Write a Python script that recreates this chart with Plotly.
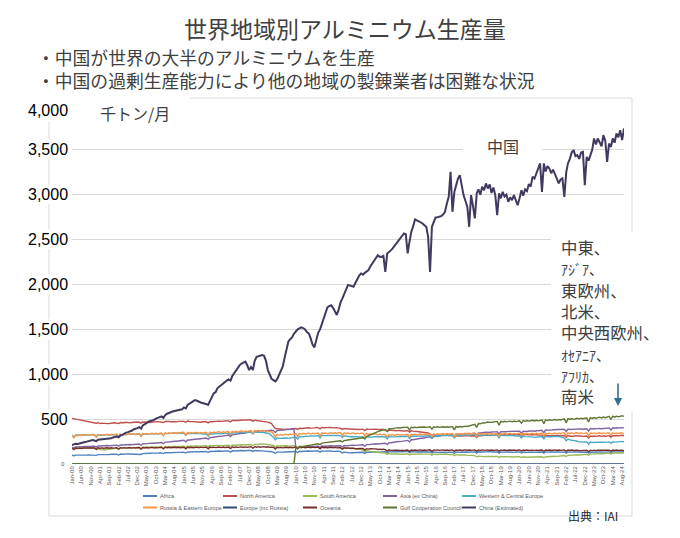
import pandas as pd
import plotly.graph_objects as go

# monthly aluminium production, thousand tonnes, Jan-2000 .. Sep-2024 (one row per year)
africa_rows = [
    [98, 92, 99, 98, 100, 99, 101, 102, 100, 102, 101, 103],
    [104, 96, 105, 104, 106, 105, 107, 108, 106, 108, 107, 109],
    [110, 100, 111, 109, 112, 110, 113, 112, 111, 113, 112, 114],
    [115, 106, 116, 115, 118, 117, 120, 121, 119, 122, 121, 123],
    [124, 116, 126, 125, 127, 126, 128, 129, 127, 130, 129, 131],
    [132, 122, 134, 133, 135, 134, 136, 137, 135, 138, 137, 139],
    [140, 128, 142, 140, 143, 141, 144, 145, 142, 145, 144, 146],
    [146, 133, 147, 145, 148, 146, 149, 150, 147, 150, 148, 151],
    [150, 140, 150, 147, 148, 145, 146, 144, 140, 141, 138, 136],
    [133, 120, 132, 130, 133, 132, 134, 136, 134, 137, 136, 139],
    [140, 128, 142, 140, 143, 141, 144, 145, 142, 145, 143, 146],
    [146, 133, 146, 143, 145, 142, 144, 145, 141, 143, 140, 142],
    [138, 124, 132, 128, 127, 124, 125, 126, 123, 126, 125, 128],
    [130, 118, 131, 129, 132, 130, 133, 134, 131, 134, 133, 135],
    [136, 123, 137, 135, 138, 136, 138, 139, 136, 139, 137, 140],
    [139, 126, 138, 135, 137, 134, 136, 137, 133, 136, 134, 136],
    [134, 124, 133, 130, 132, 129, 131, 132, 128, 131, 129, 131],
    [132, 119, 133, 130, 133, 131, 133, 134, 131, 134, 132, 135],
    [135, 122, 136, 133, 136, 133, 135, 136, 132, 135, 133, 136],
    [135, 122, 135, 132, 134, 131, 133, 134, 130, 133, 131, 134],
    [134, 124, 134, 130, 132, 129, 131, 132, 129, 132, 130, 133],
    [134, 121, 135, 132, 135, 132, 134, 135, 131, 134, 132, 135],
    [135, 122, 135, 132, 134, 131, 133, 134, 130, 133, 131, 134],
    [134, 121, 134, 131, 134, 131, 133, 134, 131, 134, 132, 135],
    [135, 125, 136, 133, 136, 133, 135, 136, 133],
]
north_america_rows = [
    [509, 505, 500, 498, 495, 490, 488, 485, 480, 478, 475, 471],
    [465, 455, 460, 450, 455, 452, 455, 450, 452, 455, 458, 460],
    [455, 450, 462, 458, 460, 465, 460, 458, 462, 466, 463, 468],
    [465, 455, 468, 465, 470, 466, 462, 468, 465, 470, 472, 468],
    [470, 462, 475, 470, 473, 470, 468, 472, 470, 475, 473, 478],
    [475, 465, 478, 474, 476, 472, 470, 468, 462, 466, 470, 472],
    [470, 458, 472, 470, 474, 472, 476, 478, 475, 480, 478, 482],
    [480, 470, 484, 482, 486, 484, 488, 490, 486, 490, 488, 492],
    [490, 478, 488, 486, 482, 480, 476, 474, 470, 466, 460, 450],
    [420, 395, 392, 388, 390, 386, 384, 388, 385, 390, 392, 395],
    [395, 385, 398, 396, 400, 398, 402, 404, 400, 405, 402, 406],
    [405, 392, 408, 404, 406, 402, 405, 408, 402, 406, 404, 400],
    [398, 385, 396, 392, 390, 388, 386, 390, 385, 388, 384, 386],
    [388, 372, 390, 386, 388, 384, 386, 388, 384, 386, 382, 384],
    [380, 365, 378, 374, 376, 372, 370, 374, 370, 372, 368, 370],
    [372, 355, 370, 366, 368, 362, 360, 358, 350, 352, 348, 345],
    [335, 318, 330, 325, 322, 320, 322, 324, 320, 322, 318, 320],
    [320, 298, 318, 312, 316, 312, 314, 316, 312, 314, 312, 316],
    [315, 295, 318, 314, 318, 316, 320, 322, 318, 324, 322, 326],
    [328, 305, 330, 325, 330, 326, 328, 330, 325, 330, 326, 330],
    [330, 310, 332, 325, 330, 326, 328, 330, 325, 328, 322, 326],
    [322, 300, 322, 316, 320, 316, 318, 320, 314, 318, 314, 318],
    [318, 295, 316, 310, 314, 310, 312, 314, 308, 312, 308, 312],
    [312, 290, 312, 306, 312, 308, 312, 314, 308, 314, 310, 316],
    [316, 298, 318, 312, 318, 314, 318, 320, 314],
]
south_america_rows = [
    [180, 165, 182, 178, 181, 178, 180, 181, 177, 180, 178, 181],
    [178, 160, 170, 160, 158, 155, 158, 160, 162, 168, 172, 176],
    [178, 162, 180, 177, 180, 178, 181, 182, 179, 182, 181, 184],
    [186, 170, 188, 186, 189, 187, 190, 191, 188, 191, 190, 192],
    [192, 176, 194, 191, 194, 192, 195, 196, 193, 196, 195, 197],
    [198, 182, 200, 197, 200, 198, 201, 202, 199, 202, 201, 203],
    [204, 188, 206, 203, 206, 204, 207, 208, 205, 208, 207, 209],
    [210, 193, 212, 209, 212, 210, 213, 214, 211, 214, 213, 215],
    [218, 204, 221, 218, 222, 220, 223, 224, 221, 222, 218, 214],
    [206, 186, 204, 200, 202, 199, 201, 203, 199, 203, 201, 204],
    [198, 180, 197, 193, 195, 192, 194, 195, 191, 194, 192, 194],
    [190, 172, 189, 185, 187, 184, 186, 187, 183, 186, 184, 186],
    [182, 166, 180, 175, 176, 172, 173, 172, 167, 168, 164, 163],
    [155, 138, 150, 142, 140, 135, 134, 133, 128, 130, 127, 128],
    [123, 106, 118, 112, 113, 110, 111, 112, 108, 111, 109, 111],
    [112, 100, 112, 109, 112, 110, 112, 113, 110, 112, 110, 112],
    [110, 98, 110, 106, 109, 106, 108, 109, 105, 108, 106, 108],
    [106, 93, 104, 100, 102, 98, 100, 101, 96, 98, 95, 96],
    [92, 80, 88, 84, 85, 82, 83, 84, 80, 83, 81, 83],
    [84, 74, 84, 80, 82, 79, 81, 82, 78, 81, 79, 81],
    [82, 72, 80, 76, 77, 74, 75, 76, 73, 76, 75, 78],
    [80, 70, 82, 80, 83, 82, 85, 87, 85, 89, 88, 92],
    [94, 84, 97, 96, 99, 98, 101, 103, 101, 104, 103, 106],
    [108, 97, 111, 110, 113, 112, 115, 117, 114, 118, 117, 120],
    [121, 111, 123, 121, 124, 122, 125, 126, 123],
]
asia_ex_china_rows = [
    [188, 178, 190, 189, 192, 191, 194, 195, 193, 196, 195, 198],
    [199, 188, 201, 200, 203, 202, 205, 206, 204, 207, 206, 209],
    [210, 198, 212, 211, 214, 213, 216, 217, 215, 218, 217, 220],
    [222, 209, 225, 224, 228, 227, 231, 233, 231, 235, 234, 238],
    [240, 226, 244, 244, 248, 248, 252, 254, 253, 257, 257, 261],
    [264, 248, 268, 268, 272, 272, 276, 279, 278, 282, 283, 287],
    [290, 274, 295, 296, 301, 301, 306, 309, 308, 313, 314, 318],
    [322, 305, 328, 329, 334, 335, 340, 343, 343, 348, 349, 354],
    [358, 342, 363, 363, 367, 366, 370, 372, 370, 374, 373, 376],
    [372, 352, 372, 372, 376, 376, 380, 383, 382, 386, 387, 392],
    [190, 174, 192, 190, 193, 192, 195, 196, 194, 197, 196, 199],
    [199, 183, 200, 198, 201, 199, 202, 203, 200, 203, 202, 204],
    [204, 190, 206, 204, 207, 206, 209, 210, 208, 211, 210, 213],
    [214, 198, 217, 216, 220, 219, 223, 225, 223, 227, 226, 230],
    [232, 216, 237, 237, 242, 242, 247, 250, 249, 254, 255, 260],
    [263, 247, 270, 271, 277, 278, 284, 287, 287, 293, 294, 299],
    [302, 287, 307, 307, 312, 312, 317, 319, 318, 322, 322, 326],
    [328, 309, 331, 329, 334, 332, 336, 338, 335, 339, 338, 342],
    [344, 322, 347, 345, 350, 348, 353, 355, 351, 356, 354, 358],
    [359, 335, 360, 357, 362, 359, 363, 364, 360, 364, 362, 366],
    [366, 345, 366, 362, 366, 363, 367, 369, 365, 370, 368, 373],
    [375, 350, 378, 375, 380, 377, 382, 384, 380, 385, 383, 387],
    [388, 362, 389, 385, 389, 385, 389, 390, 386, 390, 388, 392],
    [393, 367, 394, 390, 395, 391, 396, 397, 393, 398, 396, 400],
    [401, 380, 403, 399, 404, 400, 405, 406, 402],
]
west_central_europe_rows = [
    [322, 300, 324, 320, 324, 321, 325, 326, 322, 326, 324, 328],
    [326, 302, 326, 322, 325, 321, 324, 325, 321, 325, 323, 326],
    [327, 304, 328, 325, 329, 326, 330, 331, 327, 331, 329, 332],
    [333, 309, 334, 331, 335, 332, 336, 337, 333, 337, 335, 338],
    [340, 318, 342, 338, 342, 339, 343, 344, 340, 344, 342, 345],
    [344, 318, 343, 338, 341, 337, 340, 340, 335, 338, 335, 338],
    [336, 311, 337, 334, 338, 335, 339, 340, 336, 341, 339, 343],
    [345, 320, 348, 345, 350, 347, 352, 353, 349, 354, 352, 356],
    [357, 335, 358, 354, 357, 352, 354, 352, 345, 343, 332, 318],
    [298, 270, 292, 286, 288, 284, 287, 289, 286, 291, 291, 296],
    [300, 276, 304, 302, 307, 305, 309, 311, 308, 312, 311, 315],
    [318, 292, 320, 316, 320, 316, 319, 320, 315, 318, 315, 317],
    [316, 294, 314, 308, 310, 304, 306, 305, 299, 302, 299, 302],
    [304, 278, 304, 300, 304, 300, 304, 305, 301, 305, 303, 306],
    [306, 280, 306, 302, 306, 302, 305, 306, 302, 306, 304, 307],
    [310, 284, 311, 307, 312, 308, 312, 313, 309, 313, 311, 315],
    [315, 293, 316, 312, 316, 312, 316, 317, 313, 317, 315, 318],
    [320, 292, 322, 318, 323, 319, 323, 324, 320, 324, 322, 326],
    [326, 297, 326, 321, 325, 320, 324, 324, 319, 323, 320, 323],
    [322, 293, 321, 316, 319, 314, 317, 317, 312, 315, 312, 315],
    [314, 290, 312, 305, 306, 300, 302, 302, 297, 301, 299, 303],
    [306, 280, 308, 304, 308, 304, 307, 308, 303, 306, 302, 298],
    [288, 258, 278, 268, 266, 258, 257, 254, 246, 246, 242, 243],
    [245, 222, 244, 240, 243, 239, 242, 243, 239, 243, 241, 244],
    [246, 230, 248, 244, 248, 245, 249, 250, 247],
]
russia_east_europe_rows = [
    [318, 292, 320, 314, 322, 316, 324, 325, 318, 326, 320, 328],
    [327, 298, 328, 320, 328, 322, 330, 331, 323, 331, 325, 333],
    [333, 302, 334, 325, 334, 327, 336, 337, 329, 337, 331, 339],
    [339, 308, 340, 331, 340, 333, 342, 343, 335, 343, 337, 345],
    [346, 317, 348, 339, 348, 341, 350, 351, 343, 351, 345, 353],
    [352, 320, 352, 343, 351, 343, 352, 352, 343, 351, 344, 351],
    [354, 322, 356, 347, 356, 348, 358, 359, 350, 359, 352, 361],
    [362, 330, 364, 355, 364, 356, 366, 367, 358, 367, 360, 369],
    [372, 342, 374, 365, 374, 366, 375, 375, 364, 370, 358, 360],
    [338, 302, 330, 320, 328, 320, 330, 332, 324, 334, 328, 337],
    [340, 308, 342, 333, 342, 334, 343, 344, 335, 344, 337, 345],
    [346, 313, 347, 337, 346, 338, 347, 348, 339, 348, 341, 349],
    [348, 318, 347, 337, 345, 336, 344, 345, 335, 344, 336, 344],
    [343, 309, 341, 330, 337, 328, 335, 335, 325, 333, 325, 332],
    [330, 298, 330, 320, 328, 320, 328, 329, 320, 329, 322, 330],
    [331, 300, 332, 323, 332, 324, 333, 334, 325, 334, 327, 335],
    [335, 307, 337, 328, 337, 329, 338, 339, 330, 339, 332, 340],
    [340, 307, 341, 331, 340, 332, 341, 342, 332, 341, 334, 342],
    [341, 308, 341, 331, 340, 331, 340, 341, 331, 340, 332, 340],
    [340, 308, 341, 331, 341, 332, 341, 342, 332, 341, 334, 342],
    [342, 319, 343, 333, 342, 333, 342, 343, 333, 342, 335, 343],
    [344, 311, 345, 335, 345, 336, 345, 346, 336, 346, 338, 347],
    [347, 314, 347, 337, 347, 338, 347, 348, 338, 347, 339, 347],
    [347, 314, 347, 337, 346, 337, 346, 347, 337, 346, 339, 347],
    [346, 322, 347, 337, 346, 337, 346, 347, 338],
]
europe_inc_russia_rows = [
    [0, 0, 0, 0, 0, 0, 0, 0, 0, 0, 0, 0],
    [0, 0, 0, 0, 0, 0, 0, 0, 0, 0, 0, 0],
    [0, 0, 0, 0, 0, 0, 0, 0, 0, 0, 0, 0],
    [0, 0, 0, 0, 0, 0, 0, 0, 0, 0, 0, 0],
    [0, 0, 0, 0, 0, 0, 0, 0, 0, 0, 0, 0],
    [0, 0, 0, 0, 0, 0, 0, 0, 0, 0, 0, 0],
    [0, 0, 0, 0, 0, 0, 0, 0, 0, 0, 0, 0],
    [0, 0, 0, 0, 0, 0, 0, 0, 0, 0, 0, 0],
    [0, 0, 0, 0, 0, 0, 0, 0, 0, 0, 0, 0],
    [0, 0, 0, 0, 0, 0, 0, 0, 0, 0, 0, 0],
    [0, 0, 0, 0, 0, 0, 0, 0, 0, 0, 0, 0],
    [0, 0, 0, 0, 0, 0, 0, 0, 0, 0, 0, 0],
    [0, 0, 0, 0, 0, 0, 0, 0, 0, 0, 0, 0],
    [0, 0, 0, 0, 0, 0, 0, 0, 0, 0, 0, 0],
    [0, 0, 0, 0, 0, 0, 0, 0, 0, 0, 0, 0],
    [0, 0, 0, 0, 0, 0, 0, 0, 0, 0, 0, 0],
    [0, 0, 0, 0, 0, 0, 0, 0, 0, 0, 0, 0],
    [0, 0, 0, 0, 0, 0, 0, 0, 0, 0, 0, 0],
    [0, 0, 0, 0, 0, 0, 0, 0, 0, 0, 0, 0],
    [0, 0, 0, 0, 0, 0, 0, 0, 0, 0, 0, 0],
    [0, 0, 0, 0, 0, 0, 0, 0, 0, 0, 0, 0],
    [0, 0, 0, 0, 0, 0, 0, 0, 0, 0, 0, 0],
    [0, 0, 0, 0, 0, 0, 0, 0, 0, 0, 0, 0],
    [0, 0, 0, 0, 0, 0, 0, 0, 0, 0, 0, 0],
    [0, 0, 0, 0, 0, 0, 0, 0, 0],
]
oceania_rows = [
    [176, 160, 177, 172, 177, 173, 178, 178, 173, 178, 174, 179],
    [179, 163, 180, 175, 180, 176, 181, 181, 176, 181, 177, 182],
    [182, 165, 182, 177, 182, 177, 182, 183, 177, 182, 178, 183],
    [184, 166, 184, 179, 184, 179, 184, 185, 179, 184, 180, 185],
    [186, 168, 186, 181, 186, 181, 186, 187, 181, 186, 182, 187],
    [187, 169, 187, 182, 187, 182, 188, 188, 182, 188, 183, 188],
    [188, 170, 188, 183, 188, 183, 189, 189, 183, 189, 184, 189],
    [190, 171, 190, 184, 190, 185, 191, 191, 185, 191, 186, 192],
    [193, 176, 193, 187, 193, 187, 193, 193, 187, 192, 186, 191],
    [188, 168, 186, 180, 185, 180, 186, 187, 181, 187, 182, 188],
    [188, 170, 188, 182, 188, 182, 188, 188, 182, 188, 183, 188],
    [188, 170, 188, 182, 187, 181, 186, 186, 180, 185, 180, 184],
    [182, 166, 182, 176, 180, 175, 178, 176, 170, 173, 169, 172],
    [172, 155, 171, 166, 170, 165, 168, 168, 162, 166, 161, 165],
    [160, 144, 158, 152, 155, 150, 154, 154, 149, 153, 149, 154],
    [156, 141, 156, 151, 156, 151, 156, 157, 151, 156, 152, 157],
    [158, 142, 157, 152, 157, 152, 157, 157, 151, 156, 151, 156],
    [157, 141, 156, 151, 156, 151, 156, 157, 151, 156, 152, 157],
    [157, 141, 157, 152, 157, 152, 157, 157, 151, 156, 152, 157],
    [157, 141, 157, 152, 156, 151, 156, 156, 150, 155, 150, 155],
    [156, 145, 156, 150, 155, 150, 155, 155, 149, 154, 150, 155],
    [156, 140, 156, 151, 156, 151, 156, 157, 151, 156, 152, 157],
    [157, 141, 156, 151, 155, 150, 154, 154, 148, 152, 148, 152],
    [153, 138, 154, 149, 154, 149, 154, 155, 149, 154, 150, 155],
    [155, 143, 156, 150, 155, 150, 155, 155, 149],
]
gcc_rows = [
    [0, 0, 0, 0, 0, 0, 0, 0, 0, 0, 0, 0],
    [0, 0, 0, 0, 0, 0, 0, 0, 0, 0, 0, 0],
    [0, 0, 0, 0, 0, 0, 0, 0, 0, 0, 0, 0],
    [0, 0, 0, 0, 0, 0, 0, 0, 0, 0, 0, 0],
    [0, 0, 0, 0, 0, 0, 0, 0, 0, 0, 0, 0],
    [0, 0, 0, 0, 0, 0, 0, 0, 0, 0, 0, 0],
    [0, 0, 0, 0, 0, 0, 0, 0, 0, 0, 0, 0],
    [0, 0, 0, 0, 0, 0, 0, 0, 0, 0, 0, 0],
    [0, 0, 0, 0, 0, 0, 0, 0, 0, 0, 0, 0],
    [0, 0, 0, 0, 0, 0, 0, 0, 0, 0, 0, 0],
    [178, 175, 188, 192, 198, 200, 205, 208, 210, 215, 218, 222],
    [225, 215, 232, 235, 238, 240, 244, 246, 247, 250, 252, 256],
    [258, 245, 262, 264, 267, 268, 272, 274, 275, 280, 283, 288],
    [292, 285, 305, 315, 325, 335, 345, 352, 360, 368, 375, 379],
    [385, 362, 392, 392, 398, 396, 402, 404, 400, 406, 404, 408],
    [409, 378, 410, 404, 410, 405, 410, 412, 406, 412, 408, 413],
    [414, 388, 414, 408, 414, 408, 414, 415, 409, 415, 410, 416],
    [417, 380, 418, 410, 418, 412, 420, 422, 418, 425, 428, 436],
    [442, 408, 450, 448, 458, 456, 464, 468, 464, 470, 468, 472],
    [474, 432, 476, 468, 476, 470, 477, 478, 470, 478, 472, 480],
    [482, 455, 484, 476, 484, 478, 486, 487, 479, 487, 481, 489],
    [490, 448, 492, 484, 493, 486, 494, 495, 487, 496, 490, 498],
    [502, 458, 505, 496, 506, 498, 508, 510, 501, 510, 504, 513],
    [515, 468, 517, 508, 518, 510, 520, 522, 513, 523, 516, 526],
    [530, 498, 532, 522, 533, 525, 535, 538, 530],
]
china_rows = [
    [212, 218, 225, 222, 230, 236, 240, 244, 248, 252, 258, 267],
    [262, 255, 270, 272, 278, 282, 280, 286, 290, 288, 296, 300],
    [305, 298, 318, 325, 341, 350, 355, 362, 370, 385, 397, 400],
    [410, 395, 430, 440, 455, 471, 478, 480, 492, 505, 515, 527],
    [530, 512, 545, 560, 570, 582, 585, 590, 595, 600, 605, 609],
    [630, 620, 657, 670, 690, 700, 712, 705, 690, 685, 680, 672],
    [668, 660, 700, 740, 787, 800, 843, 860, 880, 900, 915, 930],
    [943, 930, 980, 1010, 1050, 1080, 1102, 1120, 1135, 1140, 1100, 1047],
    [1080, 1047, 1150, 1195, 1200, 1210, 1214, 1205, 1150, 1047, 990, 950],
    [935, 920, 943, 990, 1040, 1084, 1180, 1280, 1362, 1390, 1411, 1450],
    [1480, 1500, 1510, 1522, 1515, 1500, 1470, 1455, 1400, 1330, 1300, 1380],
    [1462, 1500, 1560, 1604, 1680, 1745, 1760, 1770, 1740, 1700, 1660, 1720],
    [1800, 1845, 1900, 1950, 1993, 1990, 1985, 1975, 2020, 2070, 2100, 2123],
    [2110, 2130, 2141, 2160, 2200, 2235, 2260, 2290, 2327, 2310, 2308, 2320],
    [2141, 2346, 2360, 2380, 2402, 2430, 2460, 2494, 2520, 2545, 2569, 2560],
    [2346, 2480, 2587, 2650, 2725, 2715, 2705, 2698, 2680, 2660, 2643, 2531],
    [2141, 2643, 2700, 2747, 2750, 2755, 2762, 2780, 2810, 2900, 2977, 3255],
    [2810, 3032, 3120, 3180, 3218, 3090, 2996, 2930, 2866, 2643, 2996, 2880],
    [2736, 3015, 3060, 3000, 3090, 3050, 3126, 3070, 3115, 3020, 3080, 2996],
    [2773, 3015, 2960, 3032, 2980, 3000, 2921, 2970, 2940, 2996, 2930, 2884],
    [2960, 3051, 2990, 3060, 3040, 3120, 3090, 3200, 3180, 3237, 3280, 3349],
    [3032, 3349, 3260, 3320, 3293, 3240, 3280, 3237, 3180, 3126, 3170, 3182],
    [2977, 3250, 3349, 3400, 3470, 3497, 3430, 3441, 3400, 3470, 3478, 3107],
    [3422, 3380, 3441, 3500, 3627, 3560, 3627, 3589, 3540, 3664, 3600, 3366],
    [3571, 3533, 3627, 3580, 3683, 3640, 3719, 3608, 3740],
]

series_names = ["Africa", "North America", "South America", "Asia (ex China)",
                "Western & Central Europe", "Russia & Eastern Europe", "Europe (inc Russia)",
                "Oceania", "Gulf Cooperation Council", "China (Estimated)"]
series_colors = ["#4F81BD", "#C0504D", "#9BBB59", "#8064A2", "#4BACC6",
                 "#F79646", "#2C4D75", "#772C2A", "#5F7530", "#43385E"]
series_rows = [africa_rows, north_america_rows, south_america_rows, asia_ex_china_rows,
               west_central_europe_rows, russia_east_europe_rows, europe_inc_russia_rows,
               oceania_rows, gcc_rows, china_rows]

y_label_values = [500, 1000, 1500, 2000, 2500, 3000, 3500, 4000]
bullet_lines = ["・中国が世界の大半のアルミニウムを生産",
                "・中国の過剰生産能力により他の地域の製錬業者は困難な状況"]
# (text, half-width kana line)
region_notes = [("中東、", False), ("ｱｼﾞｱ、", True), ("東欧州、", False), ("北米、", False),
                ("中央西欧州、", False), ("ｵｾｱﾆｱ、", True), ("ｱﾌﾘｶ、", True), ("南米", False)]


def flat(rows):
    return [v for row in rows for v in row]


series_values = [flat(r) for r in series_rows]
months = pd.date_range("2000-01-01", periods=len(series_values[-1]), freq="MS")
tick_months = months[::5]
tick_labels = [d.strftime("%b-%y") for d in tick_months]

# the page body adds an 8px margin, so the figure is drawn 8px in from the window corner
PAGE = 8
W, H = 680 - 2 * PAGE, 538 - 2 * PAGE
# plot area in window pixels
L, R, T, B = 72, 624, 105, 464


def px(x):
    return (x - L) / (R - L)


def py(y):
    return (B - y) / (B - T)


JP = "Noto Sans CJK JP"
SANS = "Liberation Sans"

fig = go.Figure()
for name, color, vals in zip(series_names, series_colors, series_values):
    fig.add_trace(go.Scatter(x=months[:len(vals)], y=vals, mode="lines", name=name,
                             line=dict(color=color, width=2.0 if name.startswith("China") else 1.4),
                             showlegend=False, hoverinfo="skip"))

shapes = [
    # outer chart border
    dict(type="rect", xref="paper", yref="paper", x0=px(49), x1=px(632), y0=py(516), y1=py(98),
         line=dict(color="#D9D9D9", width=1), layer="below"),
    # white text boxes lying on top of the chart
    dict(type="rect", xref="paper", yref="paper", x0=px(40), x1=px(190), y0=py(122), y1=py(94),
         fillcolor="white", line=dict(width=0), layer="above"),
    dict(type="rect", xref="paper", yref="paper", x0=px(463), x1=px(542), y0=py(160), y1=py(136),
         fillcolor="white", line=dict(width=0), layer="above"),
    dict(type="rect", xref="paper", yref="paper", x0=px(551), x1=px(645), y0=py(412), y1=py(232),
         fillcolor="white", line=dict(width=0), layer="above"),
]

notes_text = "<br>".join(f'<span style="font-size:14px">{t}</span>' if kana else t
                         for t, kana in region_notes)

annotations = [
    dict(text="世界地域別アルミニウム生産量", x=px(345), y=py(28), font=dict(family=JP, size=23, color="#404040")),
    dict(text="<br>".join(bullet_lines), x=px(35), y=py(68), xanchor="left", align="left",
         font=dict(family=JP, size=17.8, color="#404040")),
    dict(text="千トン/月", x=px(98), y=py(113), xanchor="left", font=dict(family=JP, size=16, color="#404040")),
    dict(text="中国", x=px(503), y=py(146), font=dict(family=JP, size=16, color="#404040")),
    dict(text=notes_text, x=px(559), y=py(321), xanchor="left", align="left",
         font=dict(family=JP, size=16.4, color="#404040")),
    dict(text="出典：IAI", x=px(566), y=py(515), xanchor="left", font=dict(family=JP, size=12, color="#262626")),
    dict(text="0", x=px(63), y=0, yref="y", font=dict(family=SANS, size=6, color="#595959")),
    dict(text="", x=px(618), y=py(406), showarrow=True, ax=0, ay=-24, arrowhead=2, arrowsize=1,
         arrowwidth=1.6, arrowcolor="#2E6E8E"),
]
for v in y_label_values:
    annotations.append(dict(text=f"{v:,}", x=px(70), xanchor="right", y=v, yref="y",
                            yshift=-5 if v == 4000 else 0, bgcolor="white", borderpad=1,
                            font=dict(family=SANS, size=16, color="black")))

# legend: two rows of five entries below the axis
for i, (name, color) in enumerate(zip(series_names, series_colors)):
    x0 = 143 + 80 * (i % 5) - (0 if i % 5 < 4 else 1)
    yy = 496 + 11.5 * (i // 5)
    shapes.append(dict(type="line", xref="paper", yref="paper", x0=px(x0), x1=px(x0 + 14),
                       y0=py(yy), y1=py(yy), line=dict(color=color, width=2)))
    annotations.append(dict(text=name, x=px(x0 + 15), y=py(yy), xanchor="left",
                            font=dict(family=SANS, size=5.5, color="#595959")))

for a in annotations:
    a.setdefault("xref", "paper")
    a.setdefault("yref", "paper")
    a.setdefault("showarrow", False)
    a.setdefault("xanchor", "center")
    a.setdefault("yanchor", "middle")

fig.update_layout(
    width=W, height=H,
    margin=dict(l=L - PAGE, r=W - (R - PAGE), t=T - PAGE, b=H - (B - PAGE)),
    paper_bgcolor="white", plot_bgcolor="white",
    xaxis=dict(type="date", range=[months[0], months[-1]], tickvals=tick_months, ticktext=tick_labels,
               tickangle=-90, tickfont=dict(family=SANS, size=6, color="#595959"),
               showgrid=False, zeroline=False, showline=False, ticks=""),
    yaxis=dict(range=[0, 4000], tickvals=y_label_values, showticklabels=False,
               gridcolor="#D9D9D9", gridwidth=1, zeroline=False, showline=False),
    shapes=shapes,
    annotations=annotations,
)

fig.write_html("out.html")
